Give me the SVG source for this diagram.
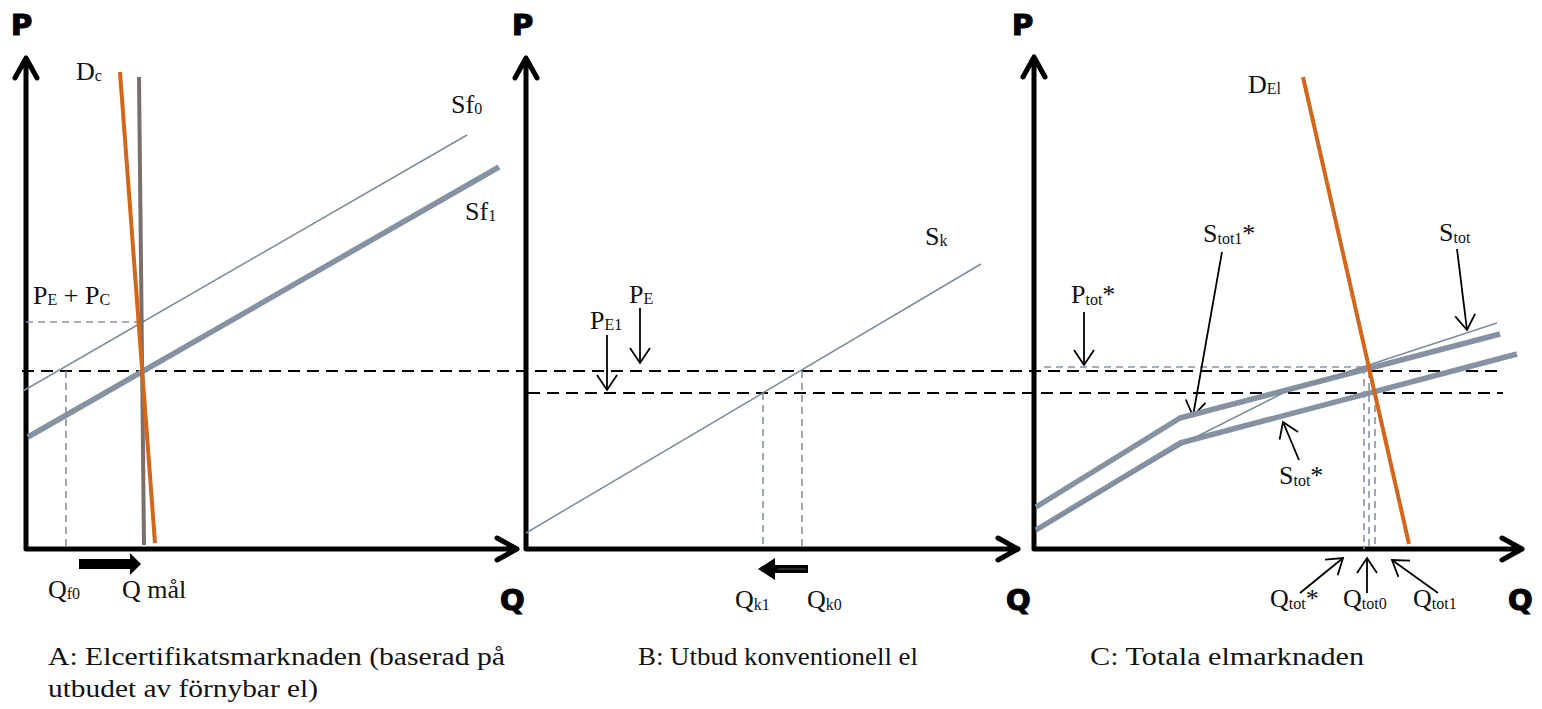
<svg xmlns="http://www.w3.org/2000/svg" width="1542" height="709" viewBox="0 0 1542 709">
<style>
.ax{fill:none;stroke:#000;stroke-width:5;stroke-linecap:round;stroke-linejoin:round}
.axl{font-family:"DejaVu Sans",sans-serif;font-weight:bold;font-size:29px;fill:#000;stroke:#000;stroke-width:1.2}
.lb{font-family:"Liberation Serif","Times New Roman",serif;font-size:26px;fill:#111}
.sb{font-size:16px}
.cap{font-family:"Liberation Serif","Times New Roman",serif;font-size:26px;fill:#111}
.thin{fill:none;stroke:#7d8b9a;stroke-width:1.5}
.thick{fill:none;stroke:#8592a1;stroke-width:5.5;stroke-linejoin:round}
.dem{fill:none;stroke:#d2661a;stroke-width:4}
.vert{fill:none;stroke:#7a6f6b;stroke-width:4}
.dk{fill:none;stroke:#000;stroke-width:2;stroke-dasharray:12 7}
.dg{fill:none;stroke:#8592a1;stroke-width:1.6;stroke-dasharray:7 5}
.ar{fill:none;stroke:#000;stroke-width:1.8;marker-end:url(#ah)}
</style>
<defs>
<marker id="ah" markerWidth="20" markerHeight="24" refX="0" refY="0" orient="auto" markerUnits="userSpaceOnUse" overflow="visible">
<path d="M-15,-10 L0,0 L-15,10" fill="none" stroke="#000" stroke-width="1.8"/>
</marker>
</defs>

<g id="axes">
<g id="axesA">
<path class="ax" d="M26,549 V58 M15,78 L26,58 L37,78 M26,549 H517 M497,538 L517,549 L497,560"/>
</g>
<g id="axesB">
<path class="ax" d="M526,549 V58 M515,78 L526,58 L537,78 M526,549 H1018 M998,538 L1018,549 L998,560"/>
</g>
<g id="axesC">
<path class="ax" d="M1034,549 V57 M1023,77 L1034,57 L1045,77 M1034,549 H1522 M1502,538 L1522,549 L1502,560"/>
</g>
</g>

<g id="connectors">
<path class="dk" d="M22,371 H1498"/>
<path class="dk" d="M528,393 H1503"/>
<path class="dg" d="M26,322 H138"/>
<path class="dg" d="M66,371 V549"/>
<path class="dg" d="M763,393 V549"/>
<path class="dg" d="M802,371 V549"/>
<path class="dg" d="M1044,367 H1366"/>
<path class="dg" d="M1364,367 V549"/>
<path class="dg" d="M1369,371 V549"/>
<path class="dg" d="M1375,393 V549"/>

<path class="ar" d="M640,308 L640,363"/>
<path class="ar" d="M607,335 L607,390"/>
<path class="ar" d="M1084,312 L1084,365"/>
<path class="ar" d="M1222,252 L1193,416"/>
<path class="ar" d="M1457,249 L1467,330"/>
<path class="ar" d="M1299,460 L1283,422"/>
<path class="ar" d="M1300,593 L1343,558"/>
<path class="ar" d="M1367,593 L1367,558"/>
<path class="ar" d="M1438,593 L1392,560"/>

<path d="M79,559 H130 V553 L141,564 L130,575 V569 H79 Z" fill="#000"/>
<path d="M808,565 H775 V558 L758,569 L775,580 V573 H808 Z" fill="#000"/>
<path d="M806,569 H778" stroke="#666" stroke-width="0.8"/>
</g>

<g id="curvesA">
<path class="thin" d="M23,391 L467,135"/>
<path class="thick" d="M28,437 L499,167"/>
<path class="vert" d="M139,77 L144,545"/>
<path class="dem" d="M120,72 L155,543"/>
</g>

<g id="curvesB">
<path class="thin" d="M526,533 L981,264"/>
</g>

<g id="curvesC">
<path class="thick" d="M1036,507 L1180,418 L1500,334"/>
<path class="thick" d="M1036,530 L1180,443 L1517,354"/>
<path class="thin" d="M1036,530 L1190,440 L1283,393 L1497,323"/>
<path class="dem" d="M1303,77 L1409,544"/>
</g>

<g id="axislabels">
<text class="axl" x="11" y="35">P</text>
<text class="axl" x="512" y="35">P</text>
<text class="axl" x="1012" y="35">P</text>
<text class="axl" x="500" y="610">Q</text>
<text class="axl" x="1006" y="610">Q</text>
<text class="axl" x="1508" y="610">Q</text>
</g>

<g id="labelsA">
<text class="lb" x="76" y="80">D<tspan class="sb" dy="1">c</tspan></text>
<text class="lb" x="451" y="113">Sf<tspan class="sb" dy="1">0</tspan></text>
<text class="lb" x="465" y="220">Sf<tspan class="sb" dy="1">1</tspan></text>
<text class="lb" x="33" y="304">P<tspan class="sb" dy="1">E</tspan><tspan dy="-1"> + P</tspan><tspan class="sb" dy="1">C</tspan></text>
<text class="lb" x="48" y="598">Q<tspan class="sb" dy="1">f0</tspan></text>
<text class="lb" x="122" y="598">Q mål</text>
</g>

<g id="labelsB">
<text class="lb" x="925" y="245">S<tspan class="sb" dy="1">k</tspan></text>
<text class="lb" x="629" y="303">P<tspan class="sb" dy="1">E</tspan></text>
<text class="lb" x="590" y="329">P<tspan class="sb" dy="1">E1</tspan></text>
<text class="lb" x="735" y="608">Q<tspan class="sb" dy="2">k1</tspan></text>
<text class="lb" x="807" y="608">Q<tspan class="sb" dy="2">k0</tspan></text>
</g>

<g id="labelsC">
<text class="lb" x="1248" y="93">D<tspan class="sb" dy="1">El</tspan></text>
<text class="lb" x="1203" y="242">S<tspan class="sb" dy="2">tot1</tspan><tspan dy="-2">*</tspan></text>
<text class="lb" x="1439" y="241">S<tspan class="sb" dy="2">tot</tspan></text>
<text class="lb" x="1071" y="303">P<tspan class="sb" dy="2">tot</tspan><tspan dy="-2">*</tspan></text>
<text class="lb" x="1279" y="484">S<tspan class="sb" dy="2">tot</tspan><tspan dy="-2">*</tspan></text>
<text class="lb" x="1270" y="607">Q<tspan class="sb" dy="2">tot</tspan><tspan dy="-2">*</tspan></text>
<text class="lb" x="1343" y="607">Q<tspan class="sb" dy="2">tot0</tspan></text>
<text class="lb" x="1413" y="607">Q<tspan class="sb" dy="2">tot1</tspan></text>
</g>

<g id="captions">
<text class="cap" x="48" y="665" textLength="457" lengthAdjust="spacingAndGlyphs">A: Elcertifikatsmarknaden (baserad på</text>
<text class="cap" x="48" y="697" textLength="270" lengthAdjust="spacingAndGlyphs">utbudet av förnybar el)</text>
<text class="cap" x="638" y="665" textLength="280" lengthAdjust="spacingAndGlyphs">B: Utbud konventionell el</text>
<text class="cap" x="1090" y="665" textLength="274" lengthAdjust="spacingAndGlyphs">C: Totala elmarknaden</text>
</g>
</svg>
